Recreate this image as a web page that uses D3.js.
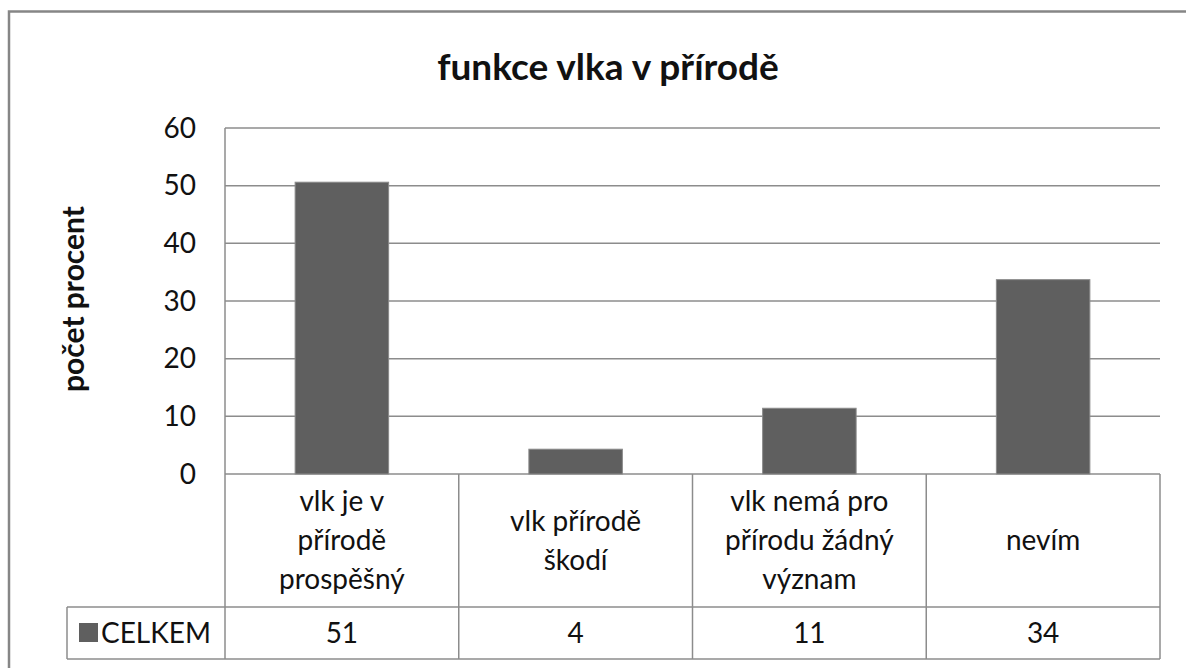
<!DOCTYPE html>
<html>
<head>
<meta charset="utf-8">
<script src="https://cdn.jsdelivr.net/npm/d3@7"></script>
<style>
	html, body { margin: 0; padding: 0; background: #fff; }
	svg text { font-family: Lato, Calibri, "Open Sans", sans-serif; fill: #111; }
</style>
</head>
<body>
<svg id="chart" width="1186" height="668"></svg>
<script>
(function(d3) {
	'use strict';

	var title = 'funkce vlka v přírodě';
	var yTitle = 'počet procent';
	var seriesName = 'CELKEM';
	var categories = ['vlk je v\npřírodě\nprospěšný', 'vlk přírodě\nškodí', 'vlk nemá pro\npřírodu žádný\nvýznam', 'nevím'];
	var values = [50.6, 4.3, 11.4, 33.7];
	var yTicks = [0, 10, 20, 30, 40, 50, 60];

	var svg = d3.select('#chart');
	var gridColor = '#8c8c8c', barColor = '#5f5f5f';
	var plotLeft = 225, plotRight = 1160, plotTop = 128, plotBottom = 474;
	var tableTop = plotBottom, rowSplit = 607, tableBottom = 659, tableLeft = 67;

	var x = d3.scaleBand().domain(d3.range(categories.length))
		.range([plotLeft, plotRight]).paddingInner(0.6).paddingOuter(0.3);
	var y = d3.scaleLinear().domain([0, 60]).range([plotBottom, plotTop]);
	var fmt = d3.format('.0f');
	var colLeft = function(i) { return plotLeft + i * x.step(); };

	/** chart area border */
	svg.append('rect').attr('x', 9).attr('y', 11.5).attr('width', 1200).attr('height', 700)
		.attr('fill', 'none').attr('stroke', '#868686').attr('stroke-width', 2.5);

	/** title */
	svg.append('text').attr('x', 608).attr('y', 80).attr('text-anchor', 'middle')
		.style('font-size', '37px').style('font-weight', 'bold').text(title);

	/** gridlines */
	svg.append('g').selectAll('line').data(yTicks).enter().append('line')
		.attr('x1', plotLeft).attr('x2', plotRight)
		.attr('y1', function(d) { return y(d); }).attr('y2', function(d) { return y(d); })
		.attr('stroke', gridColor).attr('stroke-width', 1.5);

	/** tick labels */
	svg.append('g').selectAll('text').data(yTicks).enter().append('text')
		.attr('x', 196).attr('y', function(d) { return y(d); })
		.attr('dy', '0.35em').attr('text-anchor', 'end')
		.style('font-size', '28px').text(function(d) { return d; });

	/** y axis title */
	svg.append('text').attr('transform', 'translate(84,299) rotate(-90)')
		.attr('text-anchor', 'middle').style('font-size', '30px').style('font-weight', 'bold')
		.text(yTitle);

	/** bars */
	svg.append('g').selectAll('rect').data(values).enter().append('rect')
		.attr('x', function(d, i) { return x(i); }).attr('width', x.bandwidth())
		.attr('y', function(d) { return y(d); })
		.attr('height', function(d) { return y(0) - y(d); })
		.attr('fill', barColor).attr('stroke', '#8a8a8a').attr('stroke-width', 1);

	/** data table */
	var table = svg.append('g').attr('stroke', gridColor).attr('stroke-width', 1.5);
	table.append('line').attr('x1', plotLeft).attr('x2', plotLeft).attr('y1', plotTop).attr('y2', tableBottom);
	table.selectAll('.col').data(d3.range(1, categories.length + 1)).enter().append('line')
		.attr('class', 'col')
		.attr('x1', colLeft).attr('x2', colLeft).attr('y1', tableTop).attr('y2', tableBottom);
	table.append('line').attr('x1', tableLeft).attr('x2', plotRight).attr('y1', rowSplit).attr('y2', rowSplit);
	table.append('line').attr('x1', tableLeft).attr('x2', plotRight).attr('y1', tableBottom).attr('y2', tableBottom);
	table.append('line').attr('x1', tableLeft).attr('x2', tableLeft).attr('y1', rowSplit).attr('y2', tableBottom);

	/** category labels */
	var lineGap = 39, catMid = (tableTop + rowSplit) / 2;
	svg.append('g').selectAll('text').data(categories).enter().append('text')
		.attr('text-anchor', 'middle').style('font-size', '28px')
		.each(function(d, i) {
			var lines = d.split('\n');
			var cx = colLeft(i) + x.step() / 2;
			var first = catMid - (lines.length - 1) * lineGap / 2;
			d3.select(this).selectAll('tspan').data(lines).enter().append('tspan')
				.attr('x', cx).attr('y', function(l, j) { return first + j * lineGap; })
				.attr('dy', '0.35em').text(function(l) { return l; });
		});

	/** value row */
	var valMid = (rowSplit + tableBottom) / 2;
	svg.append('g').selectAll('text').data(values).enter().append('text')
		.attr('x', function(d, i) { return colLeft(i) + x.step() / 2; })
		.attr('y', valMid).attr('dy', '0.35em').attr('text-anchor', 'middle')
		.style('font-size', '28px').text(function(d) { return fmt(d); });

	/** legend key + series name */
	svg.append('rect').attr('x', 79).attr('y', 623).attr('width', 19).attr('height', 19).attr('fill', barColor);
	svg.append('text').attr('x', 101).attr('y', valMid).attr('dy', '0.35em')
		.style('font-size', '28px').text(seriesName);
})(d3);
</script>
</body>
</html>
